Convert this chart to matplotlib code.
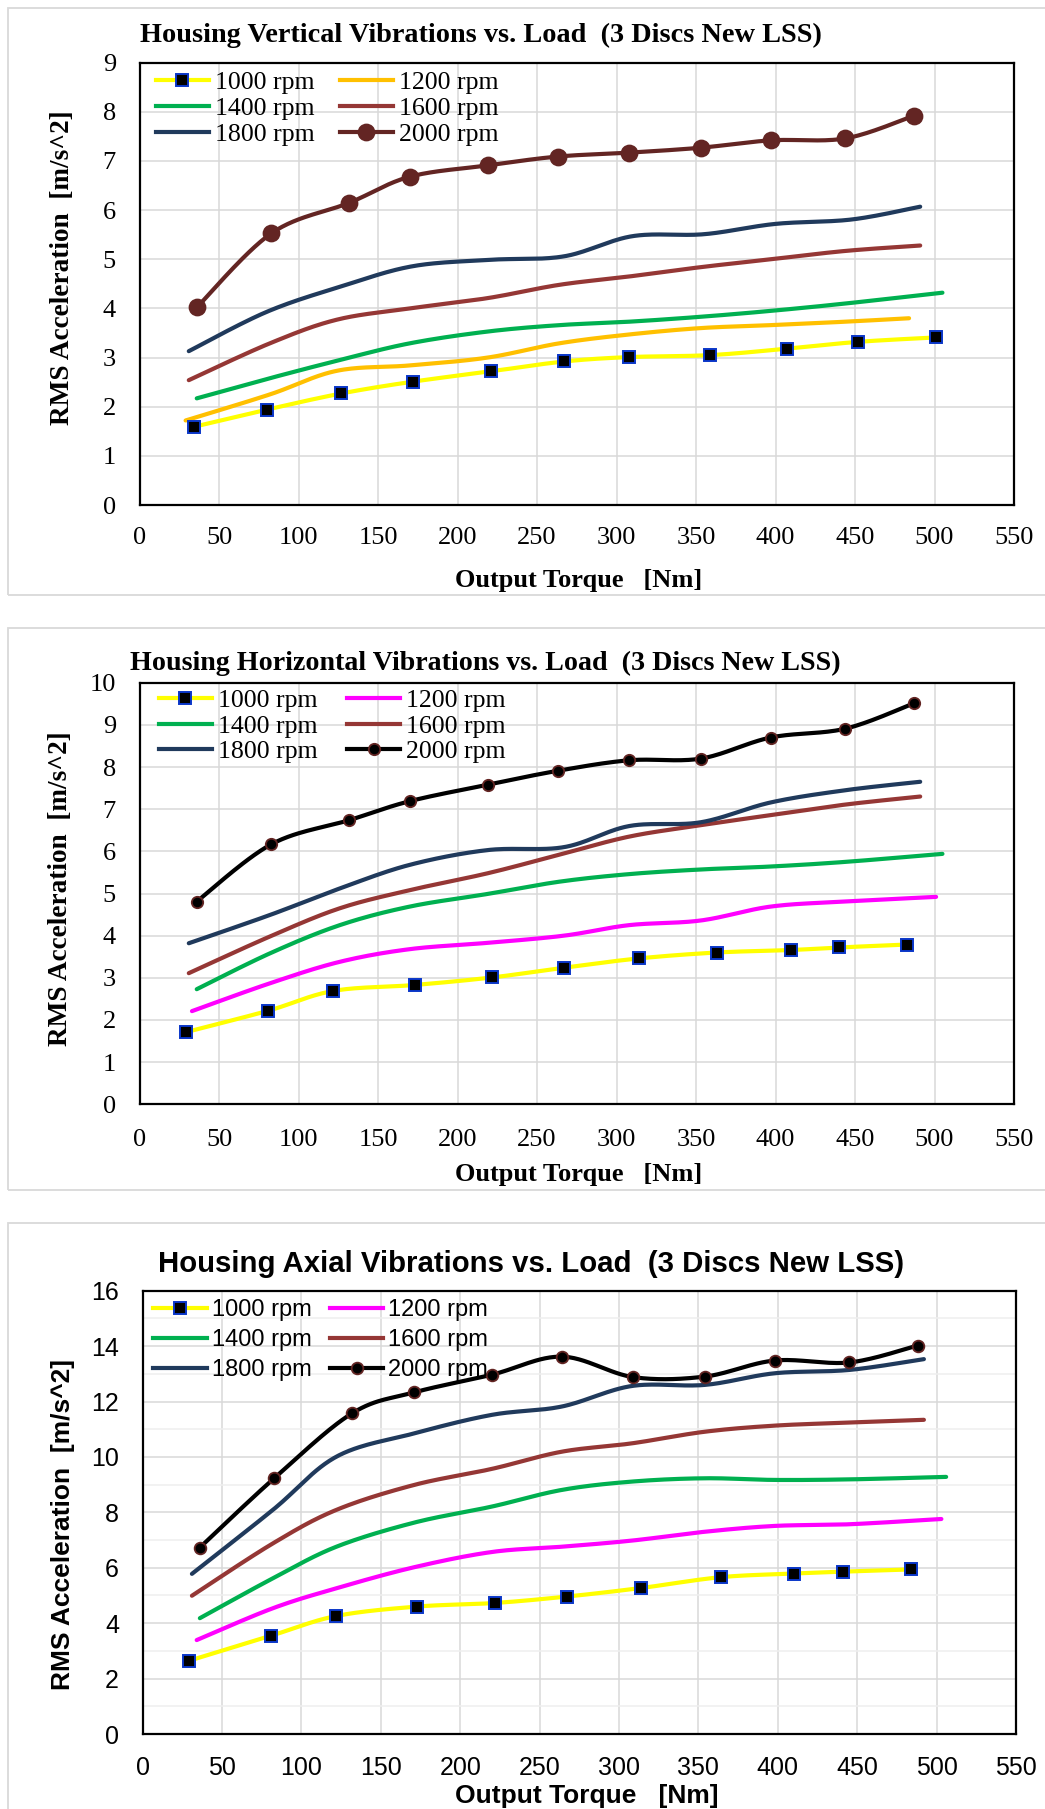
import numpy as np
import matplotlib
matplotlib.use("Agg")
import matplotlib.pyplot as plt
from matplotlib.lines import Line2D
from matplotlib.patches import Rectangle

# ---------------- data: output torque [Nm] and RMS acceleration [m/s^2] ----------------
rpm_labels = ["1000 rpm", "1200 rpm", "1400 rpm", "1600 rpm", "1800 rpm", "2000 rpm"]
x_ticks = [0, 50, 100, 150, 200, 250, 300, 350, 400, 450, 500, 550]

# Housing vertical vibrations
v_1000_x = [34, 80, 127, 172, 221, 267, 308, 359, 407, 452, 501]
v_1000_y = [1.59, 1.94, 2.27, 2.51, 2.72, 2.92, 3.01, 3.05, 3.18, 3.32, 3.41]
v_1200_x = [29, 82, 124, 170, 219, 264, 308, 353, 397, 444, 484]
v_1200_y = [1.72, 2.25, 2.73, 2.84, 3.00, 3.29, 3.47, 3.60, 3.66, 3.73, 3.80]
v_1400_x = [36, 82, 126, 170, 219, 264, 308, 353, 397, 444, 505]
v_1400_y = [2.17, 2.58, 2.95, 3.29, 3.53, 3.66, 3.73, 3.83, 3.95, 4.10, 4.32]
v_1600_x = [31, 82, 124, 170, 219, 264, 308, 353, 397, 444, 491]
v_1600_y = [2.54, 3.29, 3.77, 4.00, 4.21, 4.48, 4.65, 4.84, 5.00, 5.17, 5.28]
v_1800_x = [31, 80, 128, 172, 221, 267, 310, 355, 400, 448, 491]
v_1800_y = [3.13, 3.93, 4.46, 4.86, 4.99, 5.06, 5.47, 5.51, 5.72, 5.81, 6.07]
v_2000_x = [36, 83, 132, 170, 219, 263, 308, 353, 397, 444, 487]
v_2000_y = [4.02, 5.53, 6.15, 6.68, 6.91, 7.09, 7.17, 7.27, 7.42, 7.46, 7.92]

# Housing horizontal vibrations
h_1000_x = [29, 81, 122, 173, 222, 267, 314, 363, 410, 440, 483]
h_1000_y = [1.71, 2.22, 2.69, 2.83, 3.01, 3.24, 3.46, 3.60, 3.66, 3.72, 3.79]
h_1200_x = [33, 82, 126, 170, 219, 267, 308, 353, 397, 444, 501]
h_1200_y = [2.21, 2.87, 3.38, 3.68, 3.83, 4.00, 4.25, 4.36, 4.69, 4.81, 4.92]
h_1400_x = [36, 82, 126, 170, 219, 264, 308, 353, 397, 444, 505]
h_1400_y = [2.73, 3.58, 4.25, 4.69, 4.99, 5.28, 5.46, 5.57, 5.64, 5.75, 5.94]
h_1600_x = [31, 82, 126, 170, 219, 264, 308, 353, 397, 444, 491]
h_1600_y = [3.11, 3.98, 4.65, 5.08, 5.48, 5.92, 6.35, 6.62, 6.86, 7.11, 7.30]
h_1800_x = [31, 82, 126, 170, 219, 267, 308, 353, 397, 444, 491]
h_1800_y = [3.82, 4.49, 5.12, 5.68, 6.03, 6.10, 6.60, 6.69, 7.16, 7.45, 7.65]
h_2000_x = [36, 83, 132, 170, 219, 263, 308, 353, 397, 444, 487]
h_2000_y = [4.81, 6.17, 6.74, 7.19, 7.58, 7.91, 8.16, 8.20, 8.70, 8.91, 9.51]

# Housing axial vibrations
a_1000_x = [29, 81, 122, 173, 222, 267, 314, 364, 410, 441, 484]
a_1000_y = [2.64, 3.55, 4.26, 4.60, 4.73, 4.96, 5.27, 5.66, 5.79, 5.86, 5.94]
a_1200_x = [34, 82, 122, 171, 220, 264, 308, 354, 398, 445, 503]
a_1200_y = [3.39, 4.54, 5.26, 6.02, 6.57, 6.76, 6.98, 7.30, 7.51, 7.57, 7.76]
a_1400_x = [36, 82, 122, 171, 220, 264, 308, 354, 398, 445, 506]
a_1400_y = [4.18, 5.62, 6.76, 7.63, 8.21, 8.81, 9.11, 9.23, 9.17, 9.19, 9.28]
a_1600_x = [31, 82, 122, 171, 220, 264, 308, 354, 398, 445, 492]
a_1600_y = [4.99, 6.88, 8.09, 8.99, 9.57, 10.19, 10.49, 10.91, 11.13, 11.24, 11.34]
a_1800_x = [31, 82, 122, 171, 220, 264, 308, 354, 398, 445, 492]
a_1800_y = [5.78, 8.09, 10.01, 10.85, 11.52, 11.82, 12.56, 12.60, 13.02, 13.14, 13.53]
a_2000_x = [36, 83, 132, 171, 220, 264, 309, 354, 398, 445, 488]
a_2000_y = [6.73, 9.24, 11.58, 12.33, 12.97, 13.62, 12.88, 12.90, 13.48, 13.41, 14.02]

# ---------------- styling ----------------
W, H = 1045, 1809
DPI = 100
YELLOW = "#FFFF00"
ORANGE = "#FFC000"
MAGENTA = "#FF00FF"
GREEN = "#00B050"
BROWN = "#953735"
NAVY = "#203A5C"
MAROON = "#632523"
MARK_BLUE = "#0A36C8"
GRID = "#D9D9D9"
LW = 3.0

fig = plt.figure(figsize=(W / DPI, H / DPI), dpi=DPI)
fig.patch.set_facecolor("white")


def fx(px):
    return px / W


def fy(py):
    return 1 - py / H


def add_axes_px(left, right, top, bottom):
    return fig.add_axes([fx(left), fy(bottom), (right - left) / W, (bottom - top) / H])


def smooth(ax, x, y, n=30):
    """Smoothed Bezier path through the points (computed in screen-proportional space)."""
    x0, x1 = ax.get_xlim()
    y0, y1 = ax.get_ylim()
    bb = ax.get_position()
    sx = bb.width * W / (x1 - x0)
    sy = bb.height * H / (y1 - y0)
    P = np.column_stack([np.asarray(x, float) * sx, np.asarray(y, float) * sy])
    m = len(P)
    t = np.linspace(0, 1, n)[:, None]
    segs = []
    for i in range(m - 1):
        p0 = P[i - 1] if i > 0 else P[i]
        p1, p2 = P[i], P[i + 1]
        p3 = P[i + 2] if i + 2 < m else P[i + 1]
        c1 = p1 + (p2 - p0) / 6.0
        c2 = p2 - (p3 - p1) / 6.0
        B = ((1 - t) ** 3) * p1 + 3 * ((1 - t) ** 2) * t * c1 + 3 * (1 - t) * t ** 2 * c2 + t ** 3 * p2
        segs.append(B if i == 0 else B[1:])
    S = np.vstack(segs)
    return S[:, 0] / sx, S[:, 1] / sy


def draw_panel(ax, series, ymax, ystep, family, tick_fs, x_pad, y_pad, minor_y=False):
    ax.set_xlim(0, 550)
    ax.set_ylim(0, ymax)
    ax.set_xticks(x_ticks)
    ax.set_yticks(np.arange(0, ymax + 0.01, ystep))
    ax.set_yticklabels([f"{v:g}" for v in np.arange(0, ymax + 0.01, ystep)])
    if minor_y:
        ax.set_yticks(np.arange(1, ymax, 2), minor=True)
        ax.grid(True, which="minor", axis="y", color="#EFEFEF", lw=1.1, zorder=0)
        ax.tick_params(which="minor", length=0)
    ax.grid(True, which="major", color=GRID, lw=1.1, zorder=0)
    ax.set_axisbelow(True)
    ax.tick_params(which="major", length=0, labelsize=tick_fs, colors="black")
    ax.tick_params(axis="x", pad=x_pad)
    ax.tick_params(axis="y", pad=y_pad)
    for lbl in ax.get_xticklabels() + ax.get_yticklabels():
        lbl.set_fontfamily(family)
    for sp in ax.spines.values():
        sp.set_color("black")
        sp.set_linewidth(1.6)
    for s in series:
        xs, ys = smooth(ax, s["x"], s["y"])
        ax.plot(xs, ys, color=s["color"], lw=LW, solid_capstyle="round", zorder=3)
        if s.get("marker"):
            ax.plot(s["x"], s["y"], ls="none", marker=s["marker"], ms=s["ms"],
                    mfc=s["mfc"], mec=s["mec"], mew=s["mew"], zorder=4)


def legend_handles(series):
    hs = []
    for s in series:
        if s.get("marker"):
            hs.append(Line2D([], [], color=s["color"], lw=LW, marker=s["marker"], ms=s["ms"],
                             mfc=s["mfc"], mec=s["mec"], mew=s["mew"]))
        else:
            hs.append(Line2D([], [], color=s["color"], lw=LW))
    return hs


def add_legend(ax, series, left_px, top_px, family, fs, hlen, htpad, colsp, lspace):
    hs = legend_handles(series)
    order = [0, 2, 4, 1, 3, 5]
    leg = ax.legend([hs[i] for i in order], [rpm_labels[i] for i in order], ncol=2,
                    loc="upper left", bbox_to_anchor=(fx(left_px), fy(top_px)),
                    bbox_transform=fig.transFigure, frameon=False, borderpad=0,
                    borderaxespad=0, handlelength=hlen, handletextpad=htpad,
                    columnspacing=colsp, labelspacing=lspace, numpoints=1,
                    prop={"family": family, "size": fs})
    leg.set_zorder(5)


def make_series(xs, ys, c1200, c2000_line, c2000_face, ms2000):
    cols = [YELLOW, c1200, GREEN, BROWN, NAVY, c2000_line]
    out = []
    for i, (x, y) in enumerate(zip(xs, ys)):
        s = {"x": x, "y": y, "color": cols[i]}
        if i == 0:
            s.update(marker="s", ms=8.4, mfc="black", mec=MARK_BLUE, mew=1.4)
        if i == 5:
            s.update(marker="o", ms=ms2000, mfc=c2000_face, mec=MAROON, mew=1.3)
        out.append(s)
    return out


def frame_box(top, bottom):
    fig.patches.append(Rectangle((fx(8), fy(bottom)), fx(1060), (bottom - top) / H,
                                 transform=fig.transFigure, fill=False,
                                 edgecolor="#D9D9D9", lw=1.3, zorder=0))


SERIF = "Liberation Serif"
SANS = "Liberation Sans"

# ---------------- panel 1: vertical ----------------
frame_box(8, 595)
ax1 = add_axes_px(139.5, 1014, 62.7, 505)
s1 = make_series([v_1000_x, v_1200_x, v_1400_x, v_1600_x, v_1800_x, v_2000_x],
                 [v_1000_y, v_1200_y, v_1400_y, v_1600_y, v_1800_y, v_2000_y],
                 ORANGE, MAROON, MAROON, 11.5)
draw_panel(ax1, s1, 9, 1, SERIF, 19, 16, 17)
add_legend(ax1, s1, 156, 71, SERIF, 18.6, 2.05, 0.23, 0.98, 0.12)
fig.text(fx(140), fy(35), "Housing Vertical Vibrations vs. Load  (3 Discs New LSS)",
         family=SERIF, weight="bold", size=20.35, ha="left", va="center")
fig.text(fx(579), fy(580), "Output Torque   [Nm]", family=SERIF, weight="bold", size=19,
         ha="center", va="center")
fig.text(fx(63), fy(268), "RMS Acceleration  [m/s^2]", family=SERIF, weight="bold", size=19.6,
         ha="center", va="center", rotation=90)

# ---------------- panel 2: horizontal ----------------
frame_box(628, 1190)
ax2 = add_axes_px(139.5, 1014, 682.7, 1104.3)
s2 = make_series([h_1000_x, h_1200_x, h_1400_x, h_1600_x, h_1800_x, h_2000_x],
                 [h_1000_y, h_1200_y, h_1400_y, h_1600_y, h_1800_y, h_2000_y],
                 MAGENTA, "black", "black", 8.2)
draw_panel(ax2, s2, 10, 1, SERIF, 19, 18, 17)
add_legend(ax2, s2, 159, 689, SERIF, 18.6, 2.05, 0.23, 1.15, 0.1)
fig.text(fx(130), fy(663), "Housing Horizontal Vibrations vs. Load  (3 Discs New LSS)",
         family=SERIF, weight="bold", size=20.2, ha="left", va="center")
fig.text(fx(579), fy(1175), "Output Torque   [Nm]", family=SERIF, weight="bold", size=19,
         ha="center", va="center")
fig.text(fx(61), fy(889), "RMS Acceleration  [m/s^2]", family=SERIF, weight="bold", size=19.6,
         ha="center", va="center", rotation=90)

# ---------------- panel 3: axial ----------------
frame_box(1223, 1850)
ax3 = add_axes_px(142.7, 1016, 1290.7, 1734)
s3 = make_series([a_1000_x, a_1200_x, a_1400_x, a_1600_x, a_1800_x, a_2000_x],
                 [a_1000_y, a_1200_y, a_1400_y, a_1600_y, a_1800_y, a_2000_y],
                 MAGENTA, "black", "black", 8.4)
draw_panel(ax3, s3, 16, 2, SANS, 18, 16, 17, minor_y=True)
add_legend(ax3, s3, 153, 1299, SANS, 17, 2.27, 0.21, 0.78, 0.34)
fig.text(fx(158), fy(1264), "Housing Axial Vibrations vs. Load  (3 Discs New LSS)",
         family=SANS, weight="bold", size=21.15, ha="left", va="center")
fig.text(fx(587), fy(1796), "Output Torque   [Nm]", family=SANS, weight="bold", size=19,
         ha="center", va="center")
fig.text(fx(63), fy(1524), "RMS Acceleration  [m/s^2]", family=SANS, weight="bold", size=19,
         ha="center", va="center", rotation=90)

fig.savefig("out.png", dpi=DPI, facecolor="white")
